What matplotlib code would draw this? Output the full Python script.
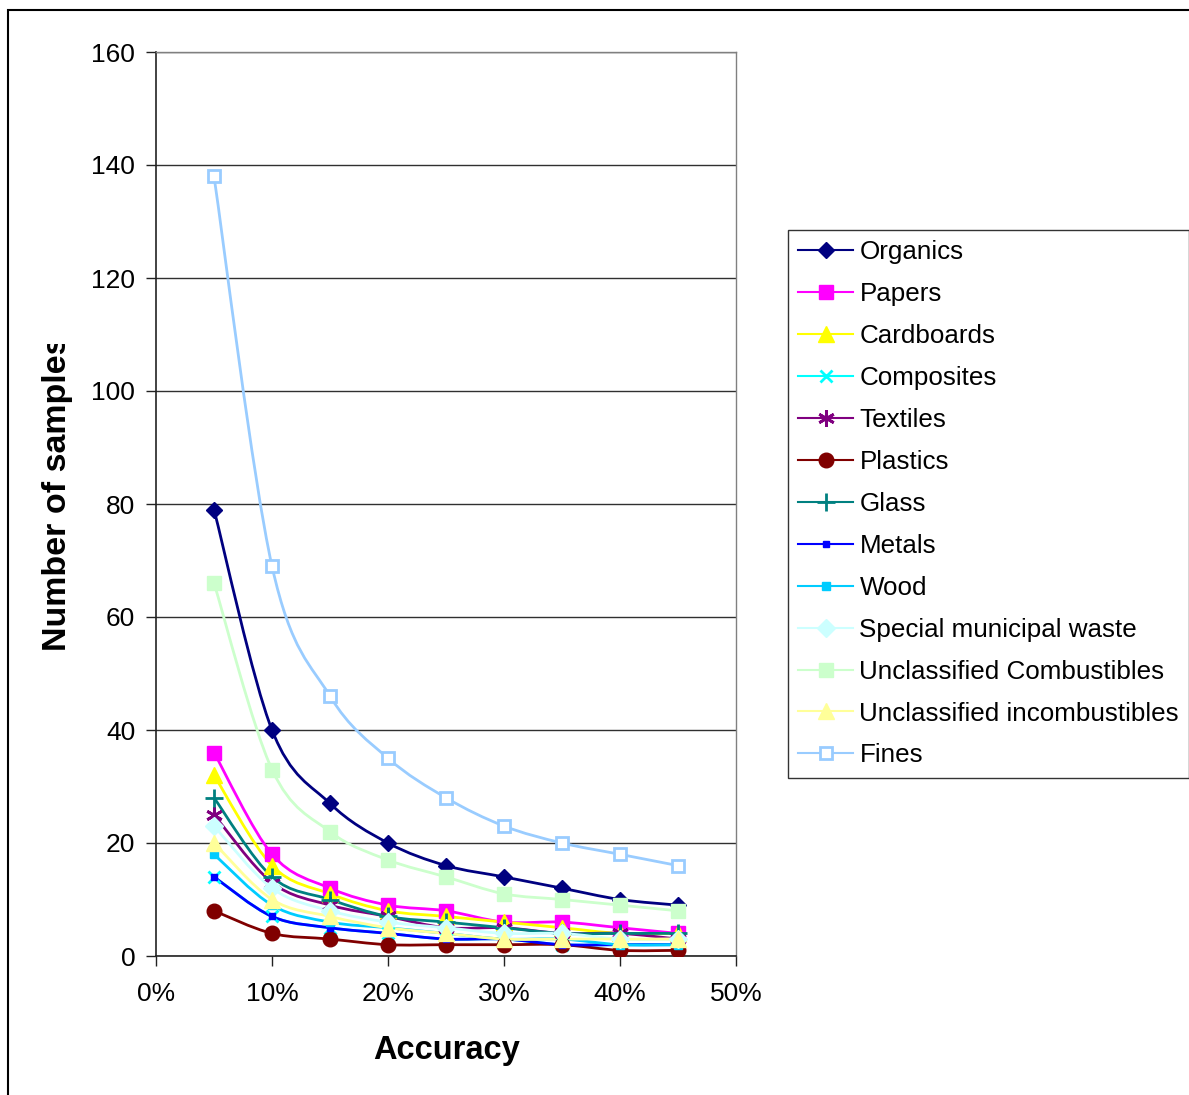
import numpy as np
import matplotlib.pyplot as plt
from matplotlib.path import Path
from matplotlib.patches import PathPatch, Rectangle
from matplotlib.lines import Line2D
from matplotlib.transforms import Bbox

plt.rcParams['font.family'] = ['Liberation Sans', 'DejaVu Sans']

accuracy = [0.05, 0.10, 0.15, 0.20, 0.25, 0.30, 0.35, 0.40, 0.45]

organics = [79, 40, 27, 20, 16, 14, 12, 10, 9]
papers = [36, 18, 12, 9, 8, 6, 6, 5, 4]
cardboards = [32, 16, 11, 8, 7, 6, 5, 4, 4]
composites = [14, 7, 5, 4, 3, 3, 2, 2, 2]
textiles = [25, 13, 9, 7, 5, 5, 4, 4, 3]
plastics = [8, 4, 3, 2, 2, 2, 2, 1, 1]
glass = [28, 14, 10, 7, 6, 5, 4, 4, 4]
metals = [14, 7, 5, 4, 3, 3, 2, 2, 2]
wood = [18, 9, 6, 5, 4, 3, 3, 2, 2]
special = [23, 12, 8, 6, 5, 4, 4, 3, 3]
uncl_comb = [66, 33, 22, 17, 14, 11, 10, 9, 8]
uncl_incomb = [20, 10, 7, 5, 4, 3, 3, 3, 3]
fines = [138, 69, 46, 35, 28, 23, 20, 18, 16]

# name, values, colour, marker, marker size, filled
series = [
    ('Organics', organics, '#000080', 'D', 8, True),
    ('Papers', papers, '#FF00FF', 's', 9.5, True),
    ('Cardboards', cardboards, '#FFFF00', '^', 11, True),
    ('Composites', composites, '#00FFFF', 'x', 9, True),
    ('Textiles', textiles, '#800080', (6, 2, 0), 12, True),
    ('Plastics', plastics, '#800000', 'o', 10.5, True),
    ('Glass', glass, '#008080', '+', 13, True),
    ('Metals', metals, '#0000FF', 's', 5, True),
    ('Wood', wood, '#00CCFF', 's', 6, True),
    ('Special municipal waste', special, '#CCFFFF', 'D', 9, True),
    ('Unclassified Combustibles', uncl_comb, '#CCFFCC', 's', 9.5, True),
    ('Unclassified incombustibles', uncl_incomb, '#FFFF99', '^', 11, True),
    ('Fines', fines, '#99CCFF', 's', 8.5, False),
]
line_markers = ('x', '+', (6, 2, 0))


def smooth_path(x, y, t=1 / 6.0):
    # Catmull-Rom style bezier through the data points
    pts = np.column_stack([x, y]).astype(float)
    verts = [pts[0]]
    codes = [Path.MOVETO]
    n = len(pts)
    for i in range(n - 1):
        p0 = pts[i - 1] if i > 0 else pts[i]
        p1 = pts[i]
        p2 = pts[i + 1]
        p3 = pts[i + 2] if i + 2 < n else pts[i + 1]
        c1 = p1 + (p2 - p0) * t
        c2 = p2 - (p3 - p1) * t
        verts += [c1, c2, p2]
        codes += [Path.CURVE4] * 3
    return Path(verts, codes)


fig = plt.figure(figsize=(11.89, 10.95), dpi=100)
ax = fig.add_axes([156 / 1189, 139 / 1095, 580 / 1189, 904 / 1095])

handles = []
for name, vals, col, mk, ms, filled in series:
    patch = PathPatch(smooth_path(accuracy, vals), facecolor='none',
                      edgecolor=col, lw=2, zorder=3)
    ax.add_patch(patch)
    face = col if filled else 'white'
    mew = 2 if (mk in line_markers or not filled) else 1
    if mk in line_markers:
        ax.plot(accuracy, vals, ls='none', marker=mk, ms=ms, color=col,
                mew=mew, zorder=4)
    else:
        ax.plot(accuracy, vals, ls='none', marker=mk, ms=ms,
                markerfacecolor=face, markeredgecolor=col, mew=mew, zorder=4)
    handles.append(Line2D([0], [0], color=col, lw=1.5, marker=mk, ms=ms,
                          markerfacecolor=face, markeredgecolor=col,
                          mew=mew, label=name))

ax.set_xlim(0, 0.5)
ax.set_ylim(0, 160)
ax.set_xticks(np.arange(0, 0.51, 0.1))
ax.set_xticklabels(['0%', '10%', '20%', '30%', '40%', '50%'])
ax.set_yticks(np.arange(0, 161, 20))
ax.yaxis.grid(True, color='#303030', lw=1)
ax.set_axisbelow(True)
ax.tick_params(axis='both', labelsize=19, length=7, width=1,
               direction='out', color='#222222')
ax.tick_params(axis='y', pad=8)
ax.tick_params(axis='x', pad=12)
for side in ('left', 'bottom'):
    ax.spines[side].set_color('#222222')
    ax.spines[side].set_linewidth(1.2)
for side in ('top', 'right'):
    ax.spines[side].set_color('#808080')
    ax.spines[side].set_linewidth(1)

fig.text(447 / 1189, 1 - 1050 / 1095, 'Accuracy', fontsize=23.5,
         fontweight='bold', ha='center', va='center')

# y label runs past the chart area and gets cut off at the top
ylab = fig.text(58 / 1189, 1 - 651 / 1095, 'Number of samples', fontsize=24.5,
                fontweight='bold', rotation=90, ha='center', va='bottom')
ylab.set_clip_box(Bbox.from_extents(0, 0, 1189, 1095 - 344))
ylab.set_clip_on(True)

leg = fig.legend(handles=handles, loc='upper left',
                 bbox_to_anchor=(788 / 1189, 1 - 230 / 1095),
                 frameon=True, fancybox=False, fontsize=18.7,
                 handlelength=2.1, handletextpad=0.25, labelspacing=0.69,
                 borderpad=0.4, borderaxespad=0, edgecolor='black',
                 numpoints=1)
leg.get_frame().set_linewidth(1)

# outer chart border
fig.patches.append(Rectangle((8 / 1189, -0.01), 1.0, 1 - 10 / 1095 + 0.01,
                             transform=fig.transFigure, fill=False,
                             edgecolor='black', lw=1.5))

fig.savefig('out.png', dpi=100)
